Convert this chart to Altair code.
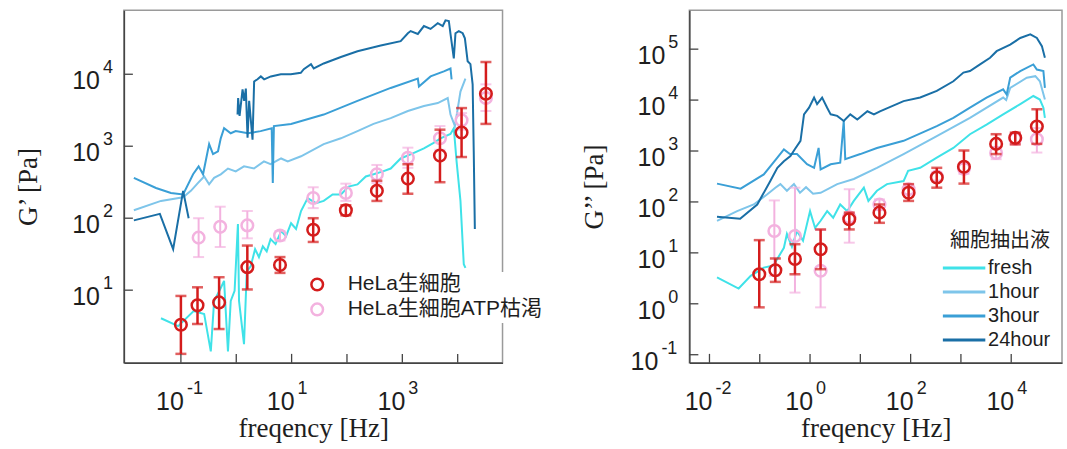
import altair as alt
import pandas as pd

# ---------------- names / colours ----------------
SERIES = ["fresh", "1hour", "3hour", "24hour"]
SERIES_COLORS = ["#3fe2e8", "#7ec5ea", "#3a9fd6", "#1a6fa6"]
MARKERS = ["HeLa生細胞", "HeLa生細胞ATP枯渇"]
MARKER_COLORS = ["#d41c1c", "#f3b2df"]

# ---------------- left panel: G' (log10 frequency, log10 G') ----------------
L_FRESH_X = [-1.36, -1.05, -0.77, -0.58, -0.46, -0.40, -0.28, -0.22, -0.15, -0.10, -0.03, 0.03, 0.05, 0.14,
             0.19, 0.26, 0.34, 0.41, 0.48, 0.55, 0.62, 0.71, 0.81, 0.90, 0.99, 1.08, 1.17, 1.29, 1.44, 1.58,
             1.74, 1.89, 2.03, 2.19, 2.34, 2.48, 2.65, 2.79, 2.97, 3.19, 3.39, 3.55, 3.69, 3.87, 3.93, 3.98,
             4.05, 4.11, 4.14]
L_FRESH_Y = [0.61, 0.50, 0.71, 0.67, 0.15, 0.85, 1.03, 1.13, 0.15, 0.85, 0.99, 1.92, 0.85, 0.25,
             1.26, 1.33, 1.57, 1.46, 1.61, 1.54, 1.71, 1.64, 1.82, 1.75, 1.93, 1.85, 2.10, 2.28, 2.21, 2.24,
             2.33, 2.33, 2.44, 2.47, 2.58, 2.61, 2.65, 2.69, 2.83, 2.90, 2.97, 3.04, 3.11, 3.17, 3.25, 2.79,
             2.24, 1.36, 1.31]

L_1H_X = [-1.85, -1.36, -0.96, -0.82, -0.69, -0.58, -0.49, -0.40, -0.28, -0.15, -0.01, 0.14, 0.32, 0.50,
          0.62, 0.81, 0.93, 1.17, 1.58, 1.89, 2.19, 2.48, 2.79, 3.10, 3.39, 3.64, 3.82, 3.87, 3.95, 4.05, 4.14]
L_1H_Y = [2.11, 2.24, 2.29, 2.38, 2.49, 2.58, 2.47, 2.56, 2.61, 2.69, 2.65, 2.72, 2.69, 2.79,
          2.75, 2.83, 2.79, 2.86, 3.03, 3.11, 3.21, 3.31, 3.39, 3.49, 3.56, 3.60, 3.67, 3.44, 3.28, 3.76, 3.94]

L_3H_X = [-1.85, -1.45, -1.18, -0.96, -0.78, -0.68, -0.60, -0.49, -0.42, -0.33, -0.28, -0.22, -0.10, -0.01,
          0.21, 0.44, 0.64, 0.66, 0.68, 0.99, 1.58, 2.19, 2.79, 3.28, 3.30, 3.51, 3.75, 3.87, 3.89]
L_3H_Y = [2.56, 2.42, 2.35, 2.33, 2.61, 2.72, 2.61, 3.03, 2.89, 2.93, 3.11, 3.25, 3.18, 3.21,
          3.18, 3.21, 3.25, 2.49, 3.28, 3.31, 3.44, 3.63, 3.81, 3.94, 3.83, 3.97, 4.04, 4.08, 3.93]

L_24H_A_X = [-1.85, -1.38, -1.14, -0.96, -0.86]
L_24H_A_Y = [1.97, 2.06, 1.57, 2.38, 2.00]
L_24H_B_X = [0.023, 0.034, 0.06, 0.114, 0.143, 0.173, 0.204, 0.233, 0.294, 0.323, 0.384, 0.444, 0.504, 0.625,
             0.805, 0.986, 1.166, 1.22, 1.35, 1.40, 1.58, 1.89, 2.19, 2.61, 2.97, 3.10, 3.15, 3.28, 3.39, 3.51,
             3.64, 3.73, 3.78, 3.84, 3.87, 3.93, 3.96, 4.02, 4.09, 4.13, 4.18, 4.23, 4.27, 4.29, 4.31]
L_24H_B_Y = [3.44, 3.67, 3.42, 3.79, 3.63, 3.80, 3.12, 3.63, 3.09, 3.90, 3.93, 3.97, 3.93, 3.97,
             4.00, 4.00, 4.02, 4.07, 4.14, 4.08, 4.15, 4.24, 4.32, 4.40, 4.46, 4.57, 4.60, 4.56, 4.67, 4.63,
             4.71, 4.67, 4.75, 4.74, 4.56, 4.22, 4.57, 4.60, 4.57, 4.50, 4.18, 4.14, 3.86, 2.93, 1.85]

# HeLa live cells (red) and ATP-depleted (pink), left panel
LR_X = [-1.0, -0.70, -0.31, 0.20, 0.79, 1.39, 1.98, 2.54, 3.10, 3.68, 4.07, 4.51]
LR_Y = [0.52, 0.79, 0.83, 1.32, 1.35, 1.84, 2.11, 2.38, 2.55, 2.87, 3.19, 3.73]
LR_HI = [0.92, 1.04, 1.18, 1.62, 1.46, 2.00, 2.18, 2.52, 2.75, 3.23, 3.53, 4.17]
LR_LO = [0.115, 0.53, 0.46, 1.01, 1.24, 1.67, 2.04, 2.24, 2.34, 2.50, 2.85, 3.31]

LP_X = [-0.68, -0.29, 0.20, 0.79, 1.39, 1.98, 2.54, 3.10, 3.68, 4.07, 4.51]
LP_Y = [1.73, 1.88, 1.90, 1.76, 2.28, 2.35, 2.61, 2.84, 3.11, 3.36, 3.67]
LP_HI = [2.00, 2.16, 2.10, 1.82, 2.43, 2.48, 2.74, 2.98, 3.28, 3.46, 3.86]
LP_LO = [1.46, 1.60, 1.72, 1.69, 2.14, 2.24, 2.49, 2.70, 2.95, 3.23, 3.49]

# ---------------- right panel: G'' ----------------
R_FRESH_X = [-1.85, -1.42, -1.18, -0.92, -0.73, -0.52, -0.46, -0.36, -0.26, -0.14, 0.0, 0.10, 0.21, 0.34,
             0.46, 0.60, 0.74, 0.87, 1.07, 1.16, 1.33, 1.53, 1.86, 1.95, 2.19, 2.52, 2.85, 3.18, 3.51, 3.84,
             4.18, 4.44, 4.57, 4.64, 4.67]
R_FRESH_Y = [0.52, 0.30, 0.55, 0.71, 0.75, 1.10, 1.37, 1.12, 1.43, 1.24, 1.82, 1.49, 1.63, 1.82,
             1.69, 1.95, 1.82, 2.02, 2.28, 2.02, 2.22, 2.35, 2.41, 2.61, 2.67, 2.87, 3.06, 3.33, 3.52, 3.72,
             3.92, 4.08, 4.01, 3.85, 3.65]

R_1H_X = [-1.85, -1.45, -1.12, -0.85, -0.69, -0.59, -0.46, -0.32, -0.20, -0.08, 0.06, 0.21, 0.54, 0.87,
          1.33, 1.86, 2.52, 3.18, 3.84, 3.90, 3.98, 4.31, 4.48, 4.57, 4.67]
R_1H_Y = [1.63, 1.82, 1.95, 2.15, 2.28, 2.35, 2.22, 2.35, 2.18, 2.29, 2.16, 2.18, 2.35, 2.45,
          2.67, 2.94, 3.29, 3.65, 4.05, 4.00, 4.24, 4.44, 4.47, 4.37, 4.01]

R_3H_X = [-1.85, -1.38, -0.92, -0.65, -0.52, -0.40, -0.26, -0.06, 0.08, 0.17, 0.21, 0.41, 0.60, 0.67,
          0.70, 1.00, 1.33, 1.86, 2.52, 2.85, 3.18, 3.51, 3.84, 3.91, 3.98, 4.18, 4.44, 4.51, 4.64, 4.67]
R_3H_Y = [2.36, 2.26, 2.54, 2.87, 3.03, 2.94, 2.94, 2.74, 2.67, 3.06, 2.64, 2.74, 2.77, 3.59,
          2.84, 2.94, 3.06, 3.20, 3.49, 3.65, 3.85, 4.05, 4.21, 4.11, 4.44, 4.57, 4.70, 4.60, 4.57, 4.24]

R_24H_X = [-1.85, -1.39, -1.05, -0.79, -0.65, -0.52, -0.39, -0.30, -0.19, -0.12, -0.02, 0.08, 0.14, 0.24,
           0.34, 0.41, 0.54, 0.67, 0.80, 0.94, 1.14, 1.27, 1.39, 1.86, 2.19, 2.52, 2.85, 3.05, 3.18, 3.38,
           3.58, 3.71, 3.98, 4.18, 4.38, 4.51, 4.61, 4.67]
R_24H_Y = [1.71, 1.67, 1.95, 2.41, 2.67, 2.80, 2.90, 3.04, 3.20, 3.72, 3.85, 4.05, 3.92, 4.05,
           3.85, 3.72, 3.69, 3.59, 3.72, 3.62, 3.78, 3.72, 3.78, 3.98, 4.05, 4.18, 4.37, 4.54, 4.57, 4.70,
           4.83, 4.96, 5.09, 5.22, 5.29, 5.22, 5.06, 4.83]

RR_X = [-1.01, -0.69, -0.30, 0.21, 0.78, 1.38, 1.96, 2.52, 3.06, 3.70, 4.08, 4.51]
RR_Y = [0.58, 0.66, 0.88, 1.07, 1.66, 1.79, 2.18, 2.48, 2.69, 3.14, 3.26, 3.48]
RR_HI = [1.25, 0.89, 1.17, 1.46, 1.79, 1.95, 2.35, 2.67, 3.01, 3.33, 3.36, 3.82]
RR_LO = [-0.07, 0.43, 0.58, 0.68, 1.46, 1.59, 2.02, 2.28, 2.36, 2.94, 3.13, 3.14]

RP_X = [-0.71, -0.30, 0.21, 0.78, 1.38, 1.96, 2.52, 3.06, 3.70, 4.08, 4.51]
RP_Y = [1.43, 1.33, 0.65, 1.70, 1.95, 2.25, 2.50, 2.65, 2.96, 3.24, 3.23]
RP_HI = [2.03, 2.28, 1.45, 2.25, 2.05, 2.32, 2.58, 2.75, 3.08, 3.34, 3.45]
RP_LO = [0.55, 0.22, -0.07, 1.20, 1.85, 2.15, 2.42, 2.55, 2.84, 3.14, 2.97]

# ---------------- axis ticks / labels (exponents) ----------------
L_XTICKS = [-1, 0, 1, 2, 3, 4]
L_XLABELS = [-1, 1, 3]
L_YTICKS = [1, 2, 3, 4]
L_YLABELS = [1, 2, 3, 4]
R_XTICKS = [-2, -1, 0, 1, 2, 3, 4]
R_XLABELS = [-2, 0, 2, 4]
R_YTICKS = [-1, 0, 1, 2, 3, 4, 5]
R_YLABELS = [-1, 0, 1, 2, 3, 4, 5]

L_XDOM = [-2.03, 4.81]
L_YDOM = [-0.01, 4.89]
R_XDOM = [-2.40, 5.01]
R_YDOM = [-1.16, 5.765]

SANS = "Liberation Sans, Arial, sans-serif"
CJK = "Liberation Sans, 'Noto Sans CJK JP', sans-serif"
SERIF = "Liberation Serif, 'Times New Roman', serif"
TXT = "#1e1e1e"
AXC = "#444444"


def lines_df(spec):
    rows = []
    for name, seg, xs, ys in spec:
        for i, (a, b) in enumerate(zip(xs, ys)):
            rows.append({"series": name, "seg": f"{name}-{seg}", "i": i, "f": 10 ** a, "g": 10 ** b})
    return pd.DataFrame(rows)


def pts_df(kind, xs, ys, lo, hi):
    return pd.DataFrame({"kind": kind,
                         "f": [10 ** v for v in xs],
                         "g": [10 ** v for v in ys],
                         "lo": [10 ** v for v in lo],
                         "hi": [10 ** v for v in hi]})


def lab_df(exps):
    return pd.DataFrame({"f": [10.0 ** e for e in exps], "g": [10.0 ** e for e in exps],
                         "base": ["10"] * len(exps), "exp": [str(e) for e in exps]})


def panel(lines, red, pink, xdom, ydom, w, h, xticks, xlabels, yticks, ylabels, ytitle,
          line_legend, point_legend):
    xs = alt.Scale(type="log", domain=[10 ** xdom[0], 10 ** xdom[1]], nice=False)
    ys = alt.Scale(type="log", domain=[10 ** ydom[0], 10 ** ydom[1]], nice=False)
    xax = alt.Axis(labels=False, ticks=False, grid=False, title="freqency [Hz]", titleFont=SERIF,
                   titleFontSize=27, titleFontWeight="normal", titleColor=TXT, titleX=w / 2, titleY=74,
                   titleBaseline="alphabetic", titleAlign="center", domainColor=AXC, domainWidth=1.5)
    yax = alt.Axis(labels=False, ticks=False, grid=False, title=ytitle, titleFont=SERIF,
                   titleFontSize=27, titleFontWeight="normal", titleColor=TXT, titleX=-95, titleY=h / 2,
                   titleBaseline="middle", titleAlign="center", titleAngle=270,
                   domainColor=AXC, domainWidth=1.5)

    def X(field):
        return alt.X(field, type="quantitative", scale=xs, axis=xax)

    def Y(field):
        return alt.Y(field, type="quantitative", scale=ys, axis=yax)

    layers = []
    layers.append(alt.Chart(lines).mark_line(strokeWidth=2, clip=True).encode(
        x=X("f"), y=Y("g"),
        stroke=alt.Stroke("series:N", scale=alt.Scale(domain=SERIES, range=SERIES_COLORS),
                          legend=line_legend),
        detail="seg:N", order="i:Q"))
    # pink error bars
    layers.append(alt.Chart(pink).mark_rule(color=MARKER_COLORS[1], strokeWidth=2).encode(
        x=X("f"), y=Y("lo"), y2="hi"))
    for fld in ["lo", "hi"]:
        layers.append(alt.Chart(pink).mark_tick(color=MARKER_COLORS[1], orient="horizontal",
                                                size=11, thickness=2).encode(x=X("f"), y=Y(fld)))
    # circles
    layers.append(alt.Chart(pd.concat([pink, red], ignore_index=True)).mark_point(
        shape="circle", filled=False, size=135, strokeWidth=2.5, opacity=1).encode(
        x=X("f"), y=Y("g"),
        color=alt.Color("kind:N", scale=alt.Scale(domain=MARKERS, range=MARKER_COLORS),
                        legend=point_legend)))
    # red error bars
    layers.append(alt.Chart(red).mark_rule(color=MARKER_COLORS[0], strokeWidth=2.5).encode(
        x=X("f"), y=Y("lo"), y2="hi"))
    for fld in ["lo", "hi"]:
        layers.append(alt.Chart(red).mark_tick(color=MARKER_COLORS[0], orient="horizontal",
                                               size=11, thickness=2.5).encode(x=X("f"), y=Y(fld)))
    # inward ticks
    layers.append(alt.Chart(lab_df(xticks)).mark_rule(color=AXC, strokeWidth=1.3).encode(
        x=X("f"), y=alt.value(h), y2=alt.value(h - 9)))
    layers.append(alt.Chart(lab_df(yticks)).mark_rule(color=AXC, strokeWidth=1.3).encode(
        y=Y("g"), x=alt.value(0), x2=alt.value(9)))
    # x tick labels 10^e
    xl = lab_df(xlabels)
    layers.append(alt.Chart(xl).mark_text(align="right", baseline="alphabetic", dx=3, fontSize=25,
                                          font=SANS, color=TXT).encode(
        x=X("f"), y=alt.value(h + 47), text="base:N"))
    layers.append(alt.Chart(xl).mark_text(align="left", baseline="alphabetic", dx=6, fontSize=18,
                                          font=SANS, color=TXT).encode(
        x=X("f"), y=alt.value(h + 31), text="exp:N"))
    # y tick labels 10^e
    pos = lab_df([e for e in ylabels if e >= 0])
    neg = lab_df([e for e in ylabels if e < 0])
    for df, bx, ex in [(pos, -24, -21), (neg, -31, -28)]:
        if len(df) == 0:
            continue
        layers.append(alt.Chart(df).mark_text(align="right", baseline="alphabetic", dy=15, fontSize=25,
                                              font=SANS, color=TXT).encode(
            y=Y("g"), x=alt.value(bx), text="base:N"))
        layers.append(alt.Chart(df).mark_text(align="left", baseline="alphabetic", dy=-1, fontSize=18,
                                              font=SANS, color=TXT).encode(
            y=Y("g"), x=alt.value(ex), text="exp:N"))
    return alt.layer(*layers).properties(width=w, height=h)


left_lines = lines_df([
    ("fresh", 0, L_FRESH_X, L_FRESH_Y),
    ("1hour", 0, L_1H_X, L_1H_Y),
    ("3hour", 0, L_3H_X, L_3H_Y),
    ("24hour", 0, L_24H_A_X, L_24H_A_Y),
    ("24hour", 1, L_24H_B_X, L_24H_B_Y),
])
right_lines = lines_df([
    ("fresh", 0, R_FRESH_X, R_FRESH_Y),
    ("1hour", 0, R_1H_X, R_1H_Y),
    ("3hour", 0, R_3H_X, R_3H_Y),
    ("24hour", 0, R_24H_X, R_24H_Y),
])

left_red = pts_df(MARKERS[0], LR_X, LR_Y, LR_LO, LR_HI)
left_pink = pts_df(MARKERS[1], LP_X, LP_Y, LP_LO, LP_HI)
right_red = pts_df(MARKERS[0], RR_X, RR_Y, RR_LO, RR_HI)
right_pink = pts_df(MARKERS[1], RP_X, RP_Y, RP_LO, RP_HI)

point_legend = alt.Legend(title=None, orient="none", legendX=181, legendY=262, symbolType="circle",
                          symbolSize=135, symbolStrokeWidth=2.5, symbolFillColor="white",
                          labelFont=CJK, labelFontSize=21, labelColor=TXT, labelOffset=20,
                          labelLimit=400, rowPadding=2, padding=2, fillColor="white")
line_legend = alt.Legend(title="細胞抽出液", orient="none", legendX=261, legendY=221,
                         symbolType="M-1.7,0H1.7", symbolSize=625, symbolStrokeWidth=3,
                         labelFont=SANS, labelFontSize=20, labelColor=TXT, labelOffset=10,
                         titleFont=CJK, titleFontSize=20, titleFontWeight="normal", titleColor=TXT,
                         titlePadding=3, rowPadding=0, padding=0)

W_L, W_R, H = 379, 373, 353
left = panel(left_lines, left_red, left_pink, L_XDOM, L_YDOM, W_L, H, L_XTICKS, L_XLABELS,
             L_YTICKS, L_YLABELS, "G’ [Pa]", None, point_legend)
right = panel(right_lines, right_red, right_pink, R_XDOM, R_YDOM, W_R, H, R_XTICKS, R_XLABELS,
              R_YTICKS, R_YLABELS, "G’’ [Pa]", line_legend, None)

chart = alt.hconcat(left, right, spacing=187, bounds="flush").resolve_scale(
    color="independent", stroke="independent", x="independent", y="independent"
).properties(
    padding={"left": 14, "top": 9, "right": 4, "bottom": 4},
    background="white",
).configure_view(stroke="#9a9a9a", strokeWidth=1.5)

chart.save("out.html", embed_options={"renderer": "svg", "actions": False})
